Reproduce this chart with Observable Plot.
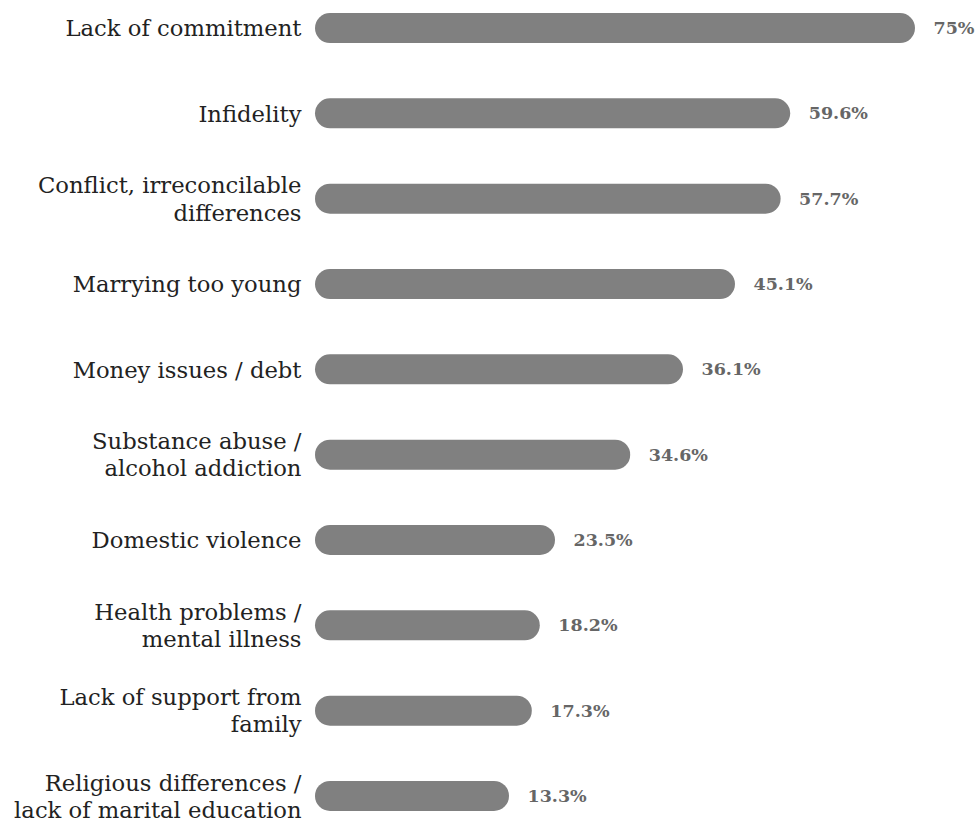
<!DOCTYPE html>
<html>
<head>
<meta charset="utf-8">
<script src="https://cdn.jsdelivr.net/npm/d3@7"></script>
<script src="https://cdn.jsdelivr.net/npm/@observablehq/plot@0.6"></script>
<style>
  html, body { margin: 0; padding: 0; background: #fff; }
  #chart svg { display: block; }
</style>
</head>
<body>
<div id="chart"></div>
<script>
// Categories (line breaks as in the reference)
const reasons = [
  "Lack of commitment",
  "Infidelity",
  "Conflict, irreconcilable\ndifferences",
  "Marrying too young",
  "Money issues / debt",
  "Substance abuse /\nalcohol addiction",
  "Domestic violence",
  "Health problems /\nmental illness",
  "Lack of support from\nfamily",
  "Religious differences /\nlack of marital education"
];
// Printed percentages
const shares = [75, 59.6, 57.7, 45.1, 36.1, 34.6, 23.5, 18.2, 17.3, 13.3];
// Bar lengths as drawn in the reference (in % units; they are not proportional to the printed figures)
const barLengths = [75, 59.4, 58.2, 52.5, 46.0, 39.4, 30.0, 28.1, 27.1, 24.25];

const data = reasons.map((r, i) => ({reason: r, share: shares[i], len: barLengths[i]}));

const fmt = v => (Number.isInteger(v) ? String(v) : v.toFixed(1)) + "%";

const chart = Plot.plot({
  width: 975,
  height: 823,
  marginTop: 13,
  marginBottom: 12,
  marginLeft: 315,
  marginRight: 60,
  style: {background: "#fff"},
  x: {domain: [0, 75], range: [315, 915], axis: null},
  y: {domain: reasons, paddingInner: 0.648, paddingOuter: 0, round: false, axis: null},
  marks: [
    Plot.barX(data, {y: "reason", x: "len", fill: "#808080", rx: 15, ry: 15}),
    Plot.text(data, {
      y: "reason", x: 0, dx: -14, dy: -1, text: "reason", textAnchor: "end", lineAnchor: "middle",
      lineHeight: 1.2, fontSize: 22.7, fontFamily: "DejaVu Serif", fill: "#222"
    }),
    Plot.text(data, {
      y: "reason", x: "len", dx: 18, text: d => fmt(d.share), textAnchor: "start",
      fontSize: 17.5, fontWeight: "bold", fontFamily: "DejaVu Serif", fill: "#666"
    })
  ]
});
document.getElementById("chart").appendChild(chart);
</script>
</body>
</html>
